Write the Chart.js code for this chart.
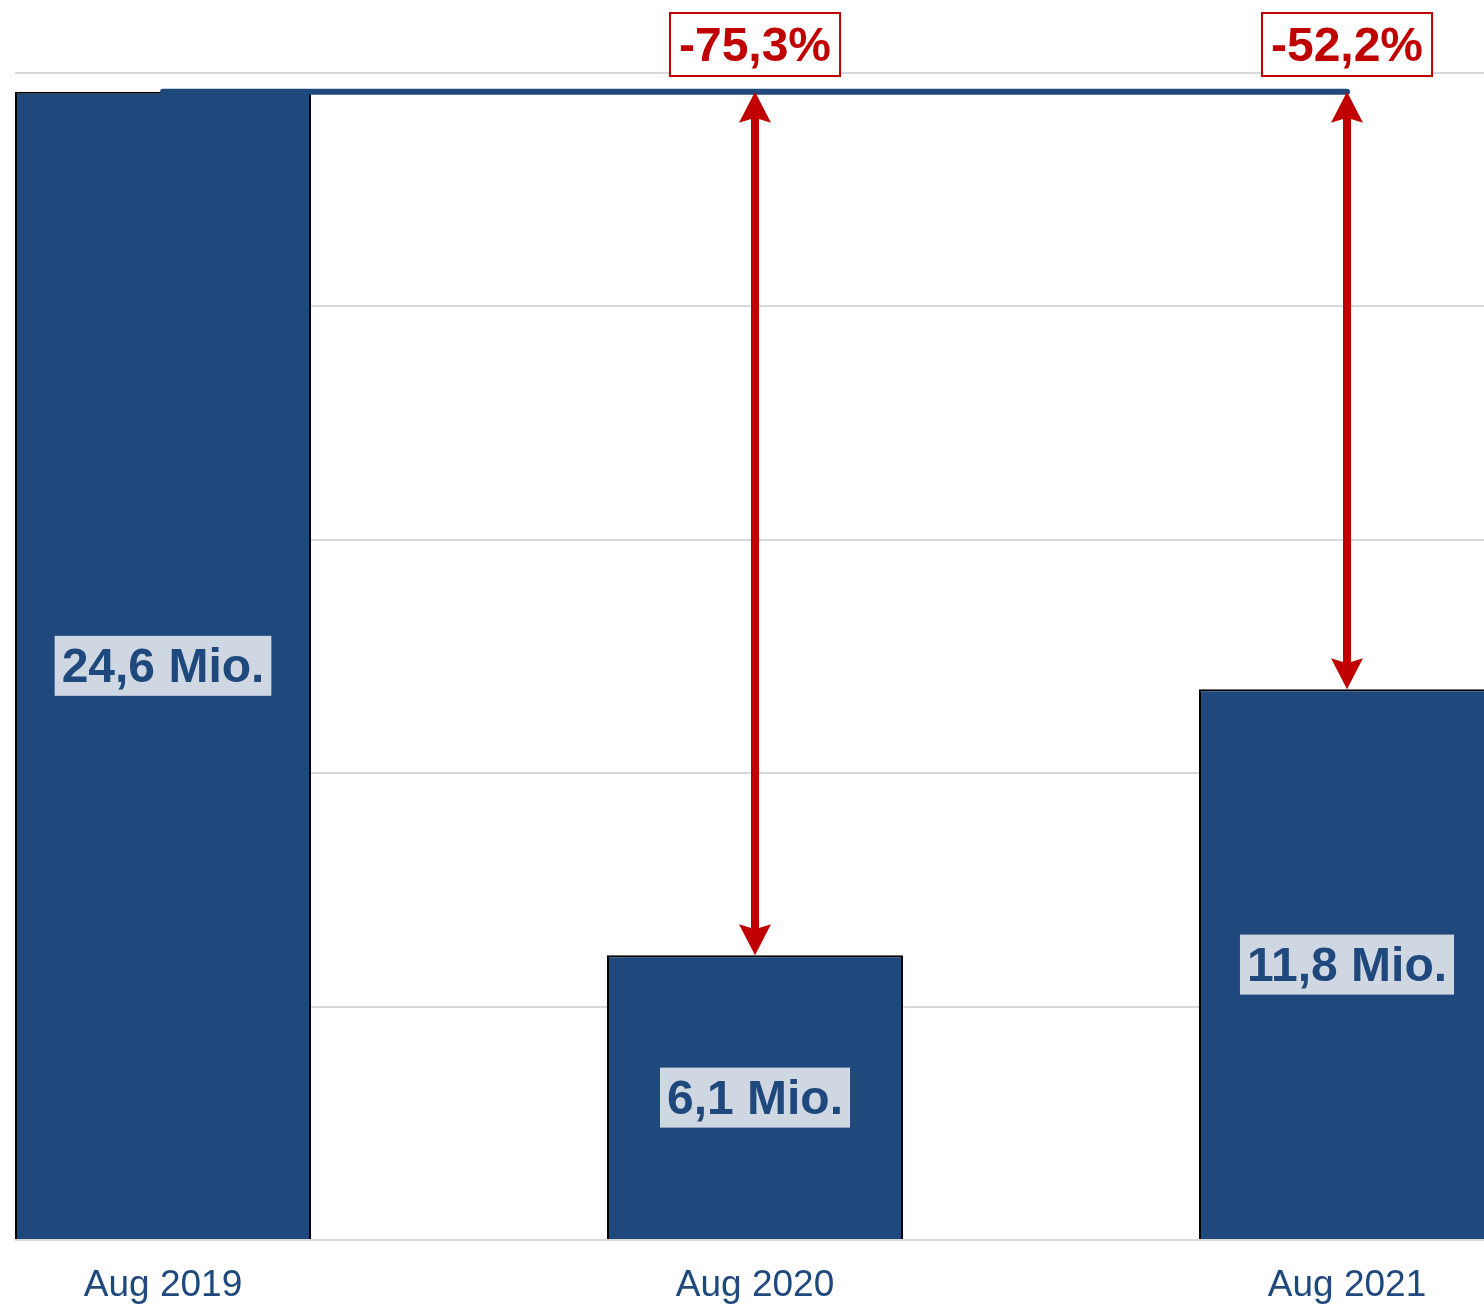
<!DOCTYPE html>
<html>
<head>
<meta charset="utf-8">
<script src="https://cdn.jsdelivr.net/npm/chart.js@4"></script>
<style>
  html, body { margin: 0; padding: 0; background: #fff; overflow: hidden; }
  #wrap { width: 1484px; height: 1306px; }
</style>
</head>
<body>
<div id="wrap"><canvas id="chart" width="1484" height="1306"></canvas></div>
<script>
// Passengers (Mio.) per month, compared with Aug 2019
const categories = ['Aug 2019', 'Aug 2020', 'Aug 2021'];
const passengers = [24.6, 6.1, 11.8];
const changeVsBase = [null, -75.3, -52.2];
const yMax = 25;
const yStep = 5;

const FONT = '"Liberation Sans", Arial, sans-serif';
const BLUE = '#1f497d';
const RED = '#c00000';

function fmt(v) {
    return v.toFixed(1).replace('.', ',');
}

const annotations = {
    id: 'annotations',
    afterDatasetsDraw(chart) {
        const { ctx, chartArea } = chart;
        const x = chart.scales.x;
        const y = chart.scales.y;
        const yZero = y.getPixelForValue(0);
        const yBase = y.getPixelForValue(passengers[0]);
        ctx.save();

        // value boxes in the middle of each bar
        ctx.font = `bold 48px ${FONT}`;
        ctx.textAlign = 'center';
        ctx.textBaseline = 'middle';
        passengers.forEach((v, i) => {
            const cx = x.getPixelForValue(i);
            const cy = (y.getPixelForValue(v) + yZero) / 2;
            const text = `${fmt(v)} Mio.`;
            const w = ctx.measureText(text).width + 14;
            ctx.fillStyle = '#cfd7e2';
            ctx.fillRect(cx - w / 2, cy - 30, w, 60);
            ctx.fillStyle = BLUE;
            ctx.fillText(text, cx, cy + 3);
        });

        // red double arrows + percent boxes
        changeVsBase.forEach((pct, i) => {
            if (pct === null) {
                return;
            }
            const cx = x.getPixelForValue(i);
            const yBot = y.getPixelForValue(passengers[i]);
            const headLen = 31;
            const headHalf = 16;
            ctx.fillStyle = RED;
            ctx.fillRect(cx - 4, yBase + headLen - 6, 8, yBot - yBase - 2 * headLen + 12);
            ctx.beginPath();
            ctx.moveTo(cx, yBase);
            ctx.lineTo(cx + headHalf, yBase + headLen);
            ctx.lineTo(cx, yBase + headLen - 5);
            ctx.lineTo(cx - headHalf, yBase + headLen);
            ctx.closePath();
            ctx.fill();
            ctx.beginPath();
            ctx.moveTo(cx, yBot);
            ctx.lineTo(cx + headHalf, yBot - headLen);
            ctx.lineTo(cx, yBot - headLen + 5);
            ctx.lineTo(cx - headHalf, yBot - headLen);
            ctx.closePath();
            ctx.fill();

            ctx.font = `bold 48px ${FONT}`;
            const text = `${fmt(pct)}%`;
            const w = ctx.measureText(text).width + 18;
            const boxBottom = chartArea.top + 3;
            const h = 63;
            ctx.fillStyle = '#fff';
            ctx.fillRect(cx - w / 2, boxBottom - h, w, h);
            ctx.strokeStyle = RED;
            ctx.lineWidth = 2;
            ctx.strokeRect(cx - w / 2, boxBottom - h, w, h);
            ctx.fillStyle = RED;
            ctx.fillText(text, cx, boxBottom - h / 2 + 3);
        });
        ctx.restore();
    },
};

new Chart(document.getElementById('chart'), {
    data: {
        datasets: [
            {
                type: 'line',
                data: [
                    { x: 0, y: passengers[0] },
                    { x: categories.length - 1, y: passengers[0] },
                ],
                borderColor: BLUE,
                borderWidth: 6,
                borderCapStyle: 'round',
                pointRadius: 0,
                order: 0,
            },
            {
                type: 'bar',
                data: passengers.map((v, i) => ({ x: i, y: v })),
                backgroundColor: BLUE,
                borderColor: '#000',
                borderWidth: 2,
                barPercentage: 0.5,
                categoryPercentage: 1,
                order: 1,
            },
        ],
    },
    options: {
        responsive: false,
        animation: false,
        layout: { padding: { left: 15, top: 73, right: 0, bottom: 0 } },
        plugins: {
            legend: { display: false },
            tooltip: { enabled: false },
        },
        scales: {
            x: {
                type: 'linear',
                offset: false,
                min: -0.25,
                max: 2.2314,
                grid: { display: false, drawTicks: false },
                border: { display: false },
                afterBuildTicks(scale) {
                    scale.ticks = categories.map((_, i) => ({ value: i }));
                },
                afterFit(scale) {
                    scale.height = 66;
                },
                ticks: {
                    autoSkip: false,
                    maxRotation: 0,
                    padding: 24,
                    color: BLUE,
                    font: { family: FONT, size: 37 },
                    callback(v) {
                        return categories[v] ?? '';
                    },
                },
            },
            y: {
                min: 0,
                max: yMax,
                ticks: { display: false, stepSize: yStep },
                grid: { color: '#d9d9d9', lineWidth: 2, drawTicks: false },
                border: { display: false },
                afterFit(scale) {
                    scale.width = 0;
                },
            },
        },
    },
    plugins: [annotations],
});
</script>
</body>
</html>
